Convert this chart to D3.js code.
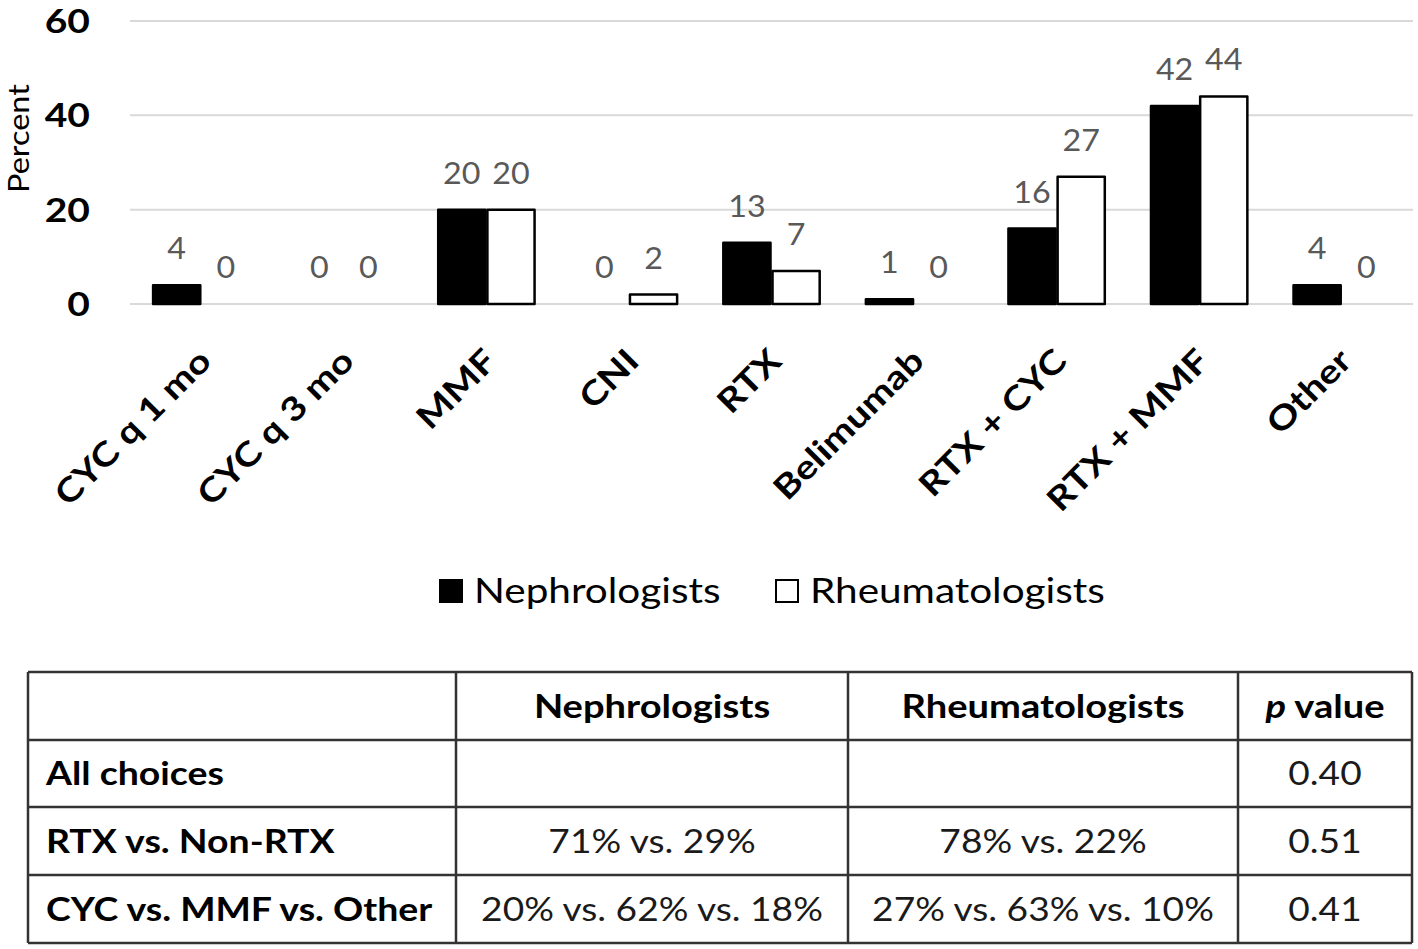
<!DOCTYPE html>
<html>
<head>
<meta charset="utf-8">
<script src="https://cdn.jsdelivr.net/npm/d3@7"></script>
<style>
  html, body { margin: 0; padding: 0; background: #fff; }
  svg { display: block; font-family: Lato, "Open Sans", sans-serif; }
</style>
</head>
<body>
<svg id="chart" width="1418" height="949"></svg>
<script>
// ---------- DATA ----------
const categories = ["CYC q 1 mo", "CYC q 3 mo", "MMF", "CNI", "RTX", "Belimumab", "RTX + CYC", "RTX + MMF", "Other"];
const nephrologists = [4, 0, 20, 0, 13, 1, 16, 42, 4];
const rheumatologists = [0, 0, 20, 2, 7, 0, 27, 44, 0];
const seriesNames = ["Nephrologists", "Rheumatologists"];
const yTicks = [0, 20, 40, 60];
const yLabel = "Percent";

const tableHeader = ["", "Nephrologists", "Rheumatologists", "p value"];
const rowLabels = ["All choices", "RTX vs. Non-RTX", "CYC vs. MMF vs. Other"];
const nephColumn = ["", "71% vs. 29%", "20% vs. 62% vs. 18%"];
const rheumColumn = ["", "78% vs. 22%", "27% vs. 63% vs. 10%"];
const pValues = ["0.40", "0.51", "0.41"];

// ---------- LAYOUT ----------
const svg = d3.select("#chart");
const plot = { left: 130, right: 1413, top: 21, bottom: 304 };

// place a text at (x,y) with a horizontal stretch (reference font is a wide-set Calibri)
function placeText(parent, x, y, sx) {
  return parent.append("text").attr("transform", `translate(${x},${y}) scale(${sx},1)`);
}

const x0 = d3.scaleBand().domain(categories).range([plot.left, plot.right])
  .paddingInner(0.31).paddingOuter(0.155);
const x1 = d3.scaleBand().domain(seriesNames).range([0, x0.bandwidth()]).padding(0);
const y = d3.scaleLinear().domain([0, 60]).range([plot.bottom, plot.top]);

// gridlines
svg.append("g").selectAll("line").data(yTicks).join("line")
  .attr("x1", plot.left).attr("x2", plot.right)
  .attr("y1", d => y(d)).attr("y2", d => y(d))
  .attr("stroke", "#d9d9d9").attr("stroke-width", 2);

// y axis labels
const yAxis = d3.axisLeft(y).tickValues(yTicks).tickSize(0).tickPadding(0);
const yg = svg.append("g").attr("transform", `translate(90,0)`).call(yAxis);
yg.select(".domain").remove();
yg.selectAll("text").attr("font-size", 32).attr("font-weight", 700)
  .attr("fill", "#000").attr("font-family", "Lato, sans-serif").attr("dy", "0.36em")
  .attr("transform", "scale(1.22,1)");

// y title
svg.append("text").attr("transform", `translate(29,${(y(60)+y(0))/2 - 24}) rotate(-90) scale(1.12,1)`)
  .attr("text-anchor", "middle").attr("font-size", 29).attr("fill", "#000")
  .text(yLabel);

// bars
const rows = categories.map((c, i) => ({ c, vals: [nephrologists[i], rheumatologists[i]] }));
const fills = ["#000", "#fff"];
const groups = svg.append("g").selectAll("g").data(rows).join("g")
  .attr("transform", d => `translate(${x0(d.c)},0)`);

groups.selectAll("rect").data(d => d.vals.map((v, j) => ({ v, s: seriesNames[j], j })))
  .join("rect")
  .filter(d => d.v > 0)
  .attr("x", d => x1(d.s) + 1)
  .attr("width", x1.bandwidth() - 2)
  .attr("y", d => y(d.v))
  .attr("height", d => y(0) - y(d.v))
  .attr("fill", d => fills[d.j])
  .attr("stroke", "#000").attr("stroke-width", 2.5).attr("stroke-linejoin", "round");

groups.selectAll("text.val").data(d => d.vals.map((v, j) => ({ v, s: seriesNames[j] })))
  .join("text").attr("class", "val")
  .attr("transform", d => `translate(${x1(d.s) + x1.bandwidth() / 2},${y(d.v) - 26}) scale(1.04,1)`)
  .attr("text-anchor", "middle").attr("font-size", 31).attr("fill", "#595959")
  .text(d => d.v);

// x category labels
const xAxis = d3.axisBottom(x0).tickSize(0).tickPadding(0);
const xg = svg.append("g").attr("transform", `translate(0,${plot.bottom})`).call(xAxis);
xg.select(".domain").remove();
xg.selectAll("text")
  .attr("font-size", 33).attr("font-weight", 700).attr("fill", "#000")
  .attr("font-family", "Lato, sans-serif")
  .attr("text-anchor", "end").attr("dy", null).attr("y", null)
  .attr("transform", "translate(12,59) rotate(-45) scale(1.19,1)");

// legend
const legend = svg.append("g");
const legendX = [440, 776];
seriesNames.forEach((s, i) => {
  legend.append("rect").attr("x", legendX[i]).attr("y", 580).attr("width", 22).attr("height", 22)
    .attr("fill", fills[i]).attr("stroke", "#000").attr("stroke-width", 2);
  placeText(legend, legendX[i] + 34, 603, 1.157)
    .attr("font-size", 35).attr("fill", "#000").text(s);
});

// ---------- TABLE ----------
const colX = [28, 456, 848, 1238, 1412];
const rowY = [672, 740, 807, 875, 943];
const tbl = svg.append("g");
const tFont = 32;

// header row
tableHeader.forEach((h, ci) => {
  if (!h) return;
  const t = placeText(tbl, (colX[ci] + colX[ci + 1]) / 2, (rowY[0] + rowY[1]) / 2, 1.19)
    .attr("dy", "0.36em")
    .attr("text-anchor", "middle").attr("font-size", tFont).attr("font-weight", 700).attr("fill", "#000");
  if (h === "p value") {
    t.append("tspan").attr("font-style", "italic").text("p");
    t.append("tspan").text(" value");
  } else t.text(h);
});

const bodyCols = [rowLabels, nephColumn, rheumColumn, pValues];
rowLabels.forEach((r, ri) => {
  const cy = (rowY[ri + 1] + rowY[ri + 2]) / 2;
  bodyCols.forEach((col, ci) => {
    const v = col[ri];
    if (!v) return;
    placeText(tbl, ci === 0 ? colX[0] + 18 : (colX[ci] + colX[ci + 1]) / 2, cy, ci === 0 ? 1.17 : 1.16)
      .attr("dy", "0.36em")
      .attr("text-anchor", ci === 0 ? "start" : "middle")
      .attr("font-size", tFont).attr("font-weight", ci === 0 ? 700 : 400)
      .attr("fill", ci === 0 ? "#000" : "#1a1a1a")
      .text(v);
  });
});

// grid lines of table
tbl.selectAll("line.h").data(rowY).join("line").attr("class", "h")
  .attr("x1", colX[0]).attr("x2", colX[colX.length - 1])
  .attr("y1", d => d).attr("y2", d => d)
  .attr("stroke", "#333").attr("stroke-width", 2.5);
tbl.selectAll("line.v").data(colX).join("line").attr("class", "v")
  .attr("y1", rowY[0]).attr("y2", rowY[rowY.length - 1])
  .attr("x1", d => d).attr("x2", d => d)
  .attr("stroke", "#333").attr("stroke-width", 2.5);
</script>
</body>
</html>
